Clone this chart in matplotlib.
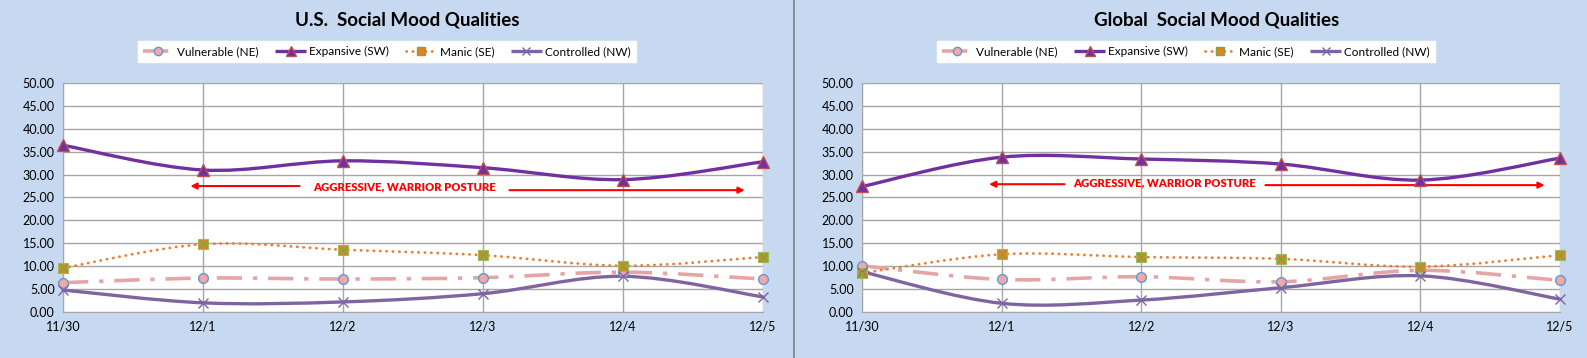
import matplotlib
matplotlib.use("Agg")
import matplotlib.pyplot as plt
from matplotlib.path import Path
from matplotlib.patches import PathPatch
from matplotlib.lines import Line2D

plt.rcParams['font.family'] = ['Lato', 'DejaVu Sans']

# data
dates = ['11/30', '12/1', '12/2', '12/3', '12/4', '12/5']

us_vulnerable = [6.4, 7.4, 7.2, 7.5, 8.7, 7.2]
us_expansive = [36.4, 31.0, 33.0, 31.5, 28.9, 32.8]
us_manic = [9.6, 14.8, 13.6, 12.4, 10.1, 12.0]
us_controlled = [4.8, 2.0, 2.2, 4.0, 7.8, 3.3]

gl_vulnerable = [10.1, 7.1, 7.7, 6.6, 9.1, 6.9]
gl_expansive = [27.4, 33.8, 33.4, 32.3, 28.8, 33.6]
gl_manic = [8.5, 12.6, 12.0, 11.6, 9.9, 12.4]
gl_controlled = [8.8, 1.9, 2.6, 5.3, 7.9, 2.8]

BG = '#C6D9F0'
RED = '#FF0000'


def smooth_path(xs, ys):
    # Excel-style smoothed line: cubic bezier with control points at 1/6 of neighbour span
    n = len(xs)
    verts = [(xs[0], ys[0])]
    codes = [Path.MOVETO]
    for i in range(n - 1):
        p0 = max(i - 1, 0)
        p3 = min(i + 2, n - 1)
        c1 = (xs[i] + (xs[i + 1] - xs[p0]) / 6, ys[i] + (ys[i + 1] - ys[p0]) / 6)
        c2 = (xs[i + 1] - (xs[p3] - xs[i]) / 6, ys[i + 1] - (ys[p3] - ys[i]) / 6)
        verts += [c1, c2, (xs[i + 1], ys[i + 1])]
        codes += [Path.CURVE4] * 3
    return Path(verts, codes)


styles = {
    'Vulnerable (NE)': dict(color='#E6A5A5', lw=2.6, ls=(0, (7, 3, 1.2, 3)), cap='butt'),
    'Expansive (SW)': dict(color='#7030A0', lw=2.4, ls='-', cap='round'),
    'Manic (SE)': dict(color='#ED7D31', lw=2.0, ls=(0, (0.1, 2.2)), cap='round'),
    'Controlled (NW)': dict(color='#8064A2', lw=2.4, ls='-', cap='round'),
}


def draw_markers(ax, name, x, y):
    if name == 'Vulnerable (NE)':
        ax.plot(x, y, ls='none', marker='o', ms=7, mfc='#F4A7A7', mec='#5B9BD5', mew=1.0, zorder=5)
    elif name == 'Expansive (SW)':
        ax.plot(x, y, ls='none', marker='^', ms=8, mfc='#7030A0', mec='#C0504D', mew=1.0, zorder=5)
    elif name == 'Manic (SE)':
        ax.plot(x, y, ls='none', marker='s', ms=7, mfc='#E8801F', mec='#9BBB59', mew=0.8, zorder=5)
        ax.plot(x, y, ls='none', marker='x', ms=6, mec='#70AD47', mew=1.0, zorder=6)
    else:
        ax.plot(x, y, ls='none', marker='x', ms=7, mec='#8064A2', mew=1.0, zorder=5)


def legend_handle(name):
    s = styles[name]
    kw = dict(color=s['color'], lw=s['lw'], ls=s['ls'], solid_capstyle='butt', dash_capstyle=s['cap'])
    if name == 'Vulnerable (NE)':
        kw.update(marker='o', ms=6, mfc='#F4A7A7', mec='#5B9BD5')
    elif name == 'Expansive (SW)':
        kw.update(marker='^', ms=7, mfc='#7030A0', mec='#C0504D')
    elif name == 'Manic (SE)':
        kw.update(marker='s', ms=6, mfc='#E8801F', mec='#70AD47')
    else:
        kw.update(marker='x', ms=6, mec='#8064A2')
    return Line2D([], [], label=name, **kw)


fig = plt.figure(figsize=(15.87, 3.58), dpi=100, facecolor=BG)

panels = [
    dict(title='U.S.  Social Mood Qualities', rect=[0.0397, 0.1285, 0.441, 0.6397],
         series=[us_vulnerable, us_expansive, us_manic, us_controlled],
         title_x=407 / 1587, legend_x=387 / 1587,
         arrows=[((1.71, 27.5), (0.89, 27.5)), ((3.17, 26.6), (4.89, 26.6))],
         text_xy=(1.79, 27.3)),
    dict(title='Global  Social Mood Qualities', rect=[0.5432, 0.1285, 0.4398, 0.6397],
         series=[gl_vulnerable, gl_expansive, gl_manic, gl_controlled],
         title_x=1217 / 1587, legend_x=1186 / 1587,
         arrows=[((1.47, 27.9), (0.89, 27.9)), ((2.87, 27.7), (4.91, 27.7))],
         text_xy=(1.51, 28.1)),
]

names = list(styles.keys())
x = list(range(len(dates)))

for p in panels:
    ax = fig.add_axes(p['rect'])
    ax.set_facecolor('white')
    ax.set_xlim(0, len(dates) - 1)
    ax.set_ylim(0, 50)
    ax.set_yticks(range(0, 51, 5))
    ax.set_yticklabels([f'{v:.2f}' for v in range(0, 51, 5)], fontsize=9)
    ax.set_xticks(x)
    ax.set_xticklabels(dates, fontsize=9)
    ax.tick_params(length=0, pad=6)
    ax.grid(True, color='#A6A6A6', lw=1.0)
    ax.set_axisbelow(True)
    for side in ['top', 'right']:
        ax.spines[side].set_visible(False)
    for side in ['left', 'bottom']:
        ax.spines[side].set_color('#A6A6A6')
    for name, vals in zip(names, p['series']):
        s = styles[name]
        patch = PathPatch(smooth_path(x, vals), fill=False, edgecolor=s['color'],
                          lw=s['lw'], ls=s['ls'], capstyle=s['cap'], zorder=3, clip_on=False)
        ax.add_patch(patch)
        draw_markers(ax, name, x, vals)
    for tail, head in p['arrows']:
        ax.annotate('', xy=head, xytext=tail,
                    arrowprops=dict(arrowstyle='-|>', color=RED, lw=1.5, mutation_scale=9))
    ax.text(p['text_xy'][0], p['text_xy'][1], 'AGGRESSIVE, WARRIOR POSTURE', color=RED,
            fontsize=8.1, fontweight='heavy', ha='left', va='center')
    for art in ax.lines:
        art.set_clip_on(False)

    fig.text(p['title_x'], 1 - 20 / 358, p['title'], fontsize=13.5, fontweight='bold',
             ha='center', va='center', color='black')
    leg = fig.legend(handles=[legend_handle(n) for n in names], loc='center',
                     bbox_to_anchor=(p['legend_x'], 1 - 51.5 / 358), ncol=4, fontsize=8.5,
                     frameon=True, fancybox=False, edgecolor='white', facecolor='white',
                     framealpha=1, handlelength=2.6, columnspacing=1.4, handletextpad=0.3,
                     borderpad=0.45)

# divider between the two charts
fig.add_artist(Line2D([794 / 1587, 794 / 1587], [0, 1], color='#7F7F7F', lw=1.2))

fig.savefig('out.png', dpi=100, facecolor=BG)
